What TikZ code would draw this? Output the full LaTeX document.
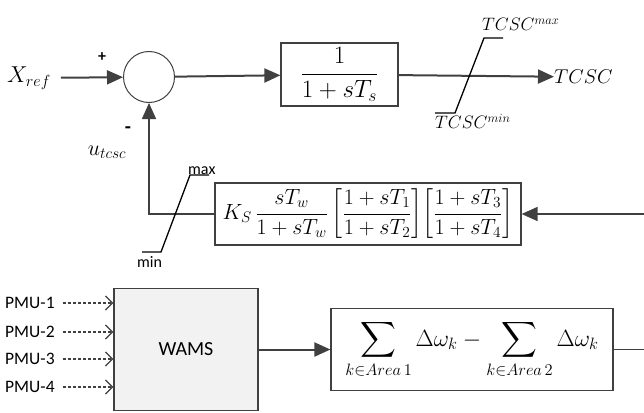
\RequirePackage{fix-cm}
\documentclass[tikz,border=0pt]{standalone}
\usepackage{amsmath}
\usepackage{fontspec}
\setmainfont{Carlito}
\usetikzlibrary{arrows.meta}
\newcommand\myfs[1]{\fontsize{#1}{#1}\selectfont}
\definecolor{linec}{HTML}{404040}
\definecolor{wamsfill}{HTML}{F2F2F2}
\tikzset{
  arr/.style={draw=linec, line width=2pt, -{Triangle[length=16pt,width=14pt]}},
  arrfb/.style={draw=linec, line width=1.6pt, -{Triangle[length=16pt,width=14pt]}},
  thinl/.style={draw=linec, line width=1.1pt},
  dasharr/.style={draw=linec, line width=1.3pt, dash pattern=on 3pt off 2pt,
     -{Straight Barb[length=7pt,width=14pt]}},
  lim/.style={draw=black, line width=1.3pt},
  blk/.style={draw=linec, line width=1.2pt, fill=white, inner sep=0pt},
  wbox/.style={draw=linec, line width=1.2pt, fill=wamsfill, inner sep=0pt},
  lbl/.style={inner sep=0pt},
}
\begin{document}
\begin{tikzpicture}[x=1pt,y=-1pt]
\useasboundingbox (0,0) rectangle (644,412);
% forward path
\node[lbl] (xref) at (29,78) {\myfs{23}$X_{ref}$};
\node[circle, draw=linec, line width=1pt, minimum size=51pt, inner sep=0pt] (sum) at (149,77) {};
\node[lbl] (plus) at (102,57) {\myfs{16}\textbf{+}};
\node[lbl] (minus) at (128,130) {\myfs{20}\textbf{-}};
\node[blk, minimum width=117pt, minimum height=63pt] (g1) at (339.5,74.5) {\myfs{25}$\dfrac{1}{1+sT_s}$};
\node[lbl, anchor=west] (tcsc) at (554,77) {\myfs{20}$TCSC$};
\draw[arr, shorten <=10pt] (xref) -- (sum);
\draw[arr] (sum) -- (g1);
\draw[arr] (g1) -- (tcsc);
% output limiter
\draw[lim] (503,38) -- (484,38) -- (455,113) -- (435,113);
\node[lbl, anchor=south west] (tmax) at (482,31) {\myfs{18}$TCSC^{max}$};
\node[lbl, anchor=north west] (tmin) at (435,114) {\myfs{18}$TCSC^{min}$};
% feedback path
\node[blk, minimum width=306pt, minimum height=62pt] (g2) at (368,214)
  {\myfs{22}$K_S\,\dfrac{sT_w}{1+sT_w}\left[\dfrac{1+sT_1}{1+sT_2}\right]\!\left[\dfrac{1+sT_3}{1+sT_4}\right]$};
\coordinate (fin) at (644,214);
\draw[arrfb] (fin) -- (g2);
\draw[arrfb] (g2) -| (sum);
\node[lbl] (utcsc) at (107,152) {\myfs{22}$u_{tcsc}$};
\draw[lim] (209,175) -- (190,175) -- (161,252) -- (142,252);
\node[lbl, anchor=base west] (lmax) at (188,174) {\myfs{16}max};
\node[lbl, anchor=base west] (lmin) at (137,267) {\myfs{16}min};
% WAMS
\node[wbox, minimum width=144pt, minimum height=122pt] (wams) at (186,349.5) {\myfs{20}WAMS};
\node[lbl, anchor=west] (p1) at (5,303) {\myfs{17.5}PMU-1};
\node[lbl, anchor=west] (p2) at (5,332) {\myfs{17.5}PMU-2};
\node[lbl, anchor=west] (p3) at (5,359) {\myfs{17.5}PMU-3};
\node[lbl, anchor=west] (p4) at (5,387) {\myfs{17.5}PMU-4};
\foreach \p in {p1,p2,p3,p4}
  \draw[dasharr, shorten <=8pt] (\p) -- (\p -| wams.west);
\node[blk, minimum width=282pt, minimum height=82pt] (sbox) at (472,349.5)
  {\myfs{23.5}$\displaystyle\sum_{k\in Area\,1}\Delta\omega_k-\sum_{k\in Area\,2}\Delta\omega_k$};
\draw[arr] (wams) -- (sbox);
\coordinate (sout) at (644,349.5);
\draw[thinl] (sbox) -- (sout);
\end{tikzpicture}
\end{document}
